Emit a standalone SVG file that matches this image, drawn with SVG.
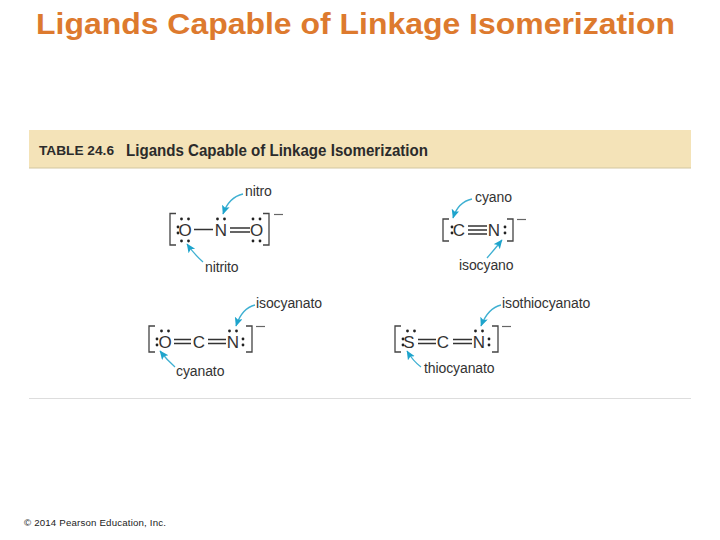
<svg xmlns="http://www.w3.org/2000/svg" width="720" height="540" viewBox="0 0 720 540">
<style>
.atom{font:17px "Liberation Sans",Arial,sans-serif;fill:#333;text-anchor:middle}
.lab{font:14px "Liberation Sans",Arial,sans-serif;fill:#333;text-anchor:start;letter-spacing:-.1px}
.br{fill:none;stroke:#444;stroke-width:1.3}
.bond{fill:none;stroke:#333;stroke-width:1.3}
.chg{fill:none;stroke:#666;stroke-width:1.2}
.ar{fill:none;stroke:#3fb0d2;stroke-width:1.3;marker-end:url(#a)}
.d{fill:#222}
</style>
<defs>
<marker id="a" markerWidth="10" markerHeight="9" refX="8.5" refY="4" orient="auto" markerUnits="userSpaceOnUse"><path d="M0 0L9 4L0 8L2 4Z" fill="#1ea4cc"/></marker>
<g id="dh"><circle cx="-3.500" cy="0" r="1.400" class="d"/><circle cx="3.500" cy="0" r="1.400" class="d"/></g>
<g id="dv"><circle cx="0" cy="-3" r="1.400" class="d"/><circle cx="0" cy="3" r="1.400" class="d"/></g>
</defs>
<rect width="720" height="540" fill="#fff"/>
<text x="36" y="34" font-family="Liberation Sans,Arial,sans-serif" font-size="29" font-weight="bold" fill="#dd7a2e" textLength="639" lengthAdjust="spacingAndGlyphs">Ligands Capable of Linkage Isomerization</text>
<rect x="29" y="130" width="662" height="38" fill="#f4e3b8"/>
<line x1="29" y1="168" x2="691" y2="168" stroke="#d3c6a0" stroke-width="1"/>
<text x="39" y="155" font-family="Liberation Sans,Arial,sans-serif" font-size="13.500" font-weight="bold" fill="#2b2b2b" textLength="75" lengthAdjust="spacingAndGlyphs">TABLE 24.6</text>
<text x="126" y="155.500" font-family="Liberation Sans,Arial,sans-serif" font-size="16.500" font-weight="bold" fill="#2b2b2b" textLength="302" lengthAdjust="spacingAndGlyphs">Ligands Capable of Linkage Isomerization</text>
<line x1="29" y1="398.500" x2="691" y2="398.500" stroke="#ddd" stroke-width="1"/>
<text x="24" y="526" font-family="Liberation Sans,Arial,sans-serif" font-size="9.700" fill="#222" textLength="142" lengthAdjust="spacing">© 2014 Pearson Education, Inc.</text>

<g id="connectors">
<path class="ar" d="M243 194Q229 197 223 214"/>
<path class="ar" d="M203 262Q194 254 187 244"/>
<path class="ar" d="M472 199Q458 202 453 218"/>
<path class="ar" d="M487 258Q494 250 502 240"/>
<path class="ar" d="M255 305Q242 308 236 326"/>
<path class="ar" d="M175 367Q167 360 160 351"/>
<path class="ar" d="M501 305Q488 308 481 326"/>
<path class="ar" d="M421 367Q413 361 407 351"/>
</g>

<g id="nitro">
<path class="br" d="M176 213.500H170V245H176M263 213.500H269V245H263"/>
<text class="atom" x="185" y="236">O</text><text class="atom" x="221" y="236">N</text><text class="atom" x="256.500" y="236">O</text>
<path class="bond" d="M194 229.500H213M230 228H250M230 232H250"/>
<path class="chg" d="M274 214.500H283"/>
<use href="#dv" x="178" y="230"/><use href="#dh" x="185" y="219"/><use href="#dh" x="185" y="241"/><use href="#dh" x="221" y="219"/><use href="#dh" x="256.500" y="219"/><use href="#dh" x="256.500" y="241"/>
<text class="lab" x="245" y="196">nitro</text><text class="lab" x="205" y="272">nitrito</text>
</g>

<g id="cyano">
<path class="br" d="M449 219H443V241H449M507 219H513V241H507"/>
<text class="atom" x="459" y="236">C</text><text class="atom" x="494" y="236">N</text>
<path class="bond" d="M468 226H487M468 230H487M468 234H487"/>
<path class="chg" d="M517 219.500H526"/>
<use href="#dv" x="452" y="230"/><use href="#dv" x="505" y="230"/>
<text class="lab" x="475" y="202">cyano</text><text class="lab" x="459" y="270">isocyano</text>
</g>

<g id="cyanato">
<path class="br" d="M155 326H149V352H155M246 326H252V352H246"/>
<text class="atom" x="165" y="348">O</text><text class="atom" x="199" y="348">C</text><text class="atom" x="233" y="348">N</text>
<path class="bond" d="M174 339.500H191M174 343.500H191M208 339.500H226M208 343.500H226"/>
<path class="chg" d="M256 326.500H265"/>
<use href="#dv" x="157" y="342"/><use href="#dh" x="165" y="331"/><use href="#dh" x="233" y="331"/><use href="#dv" x="243" y="342"/>
<text class="lab" x="256" y="308">isocyanato</text><text class="lab" x="176" y="376">cyanato</text>
</g>

<g id="thiocyanato">
<path class="br" d="M401 326H395V352H401M492 326H498V352H492"/>
<text class="atom" x="409" y="348">S</text><text class="atom" x="443" y="348">C</text><text class="atom" x="479" y="348">N</text>
<path class="bond" d="M418 339.500H436M418 343.500H436M453 339.500H472M453 343.500H472"/>
<path class="chg" d="M502 326.500H511"/>
<use href="#dv" x="403" y="342"/><use href="#dh" x="411" y="331"/><use href="#dh" x="479" y="331"/><use href="#dv" x="489" y="342"/>
<text class="lab" x="502" y="308">isothiocyanato</text><text class="lab" x="424" y="373">thiocyanato</text>
</g>
</svg>
